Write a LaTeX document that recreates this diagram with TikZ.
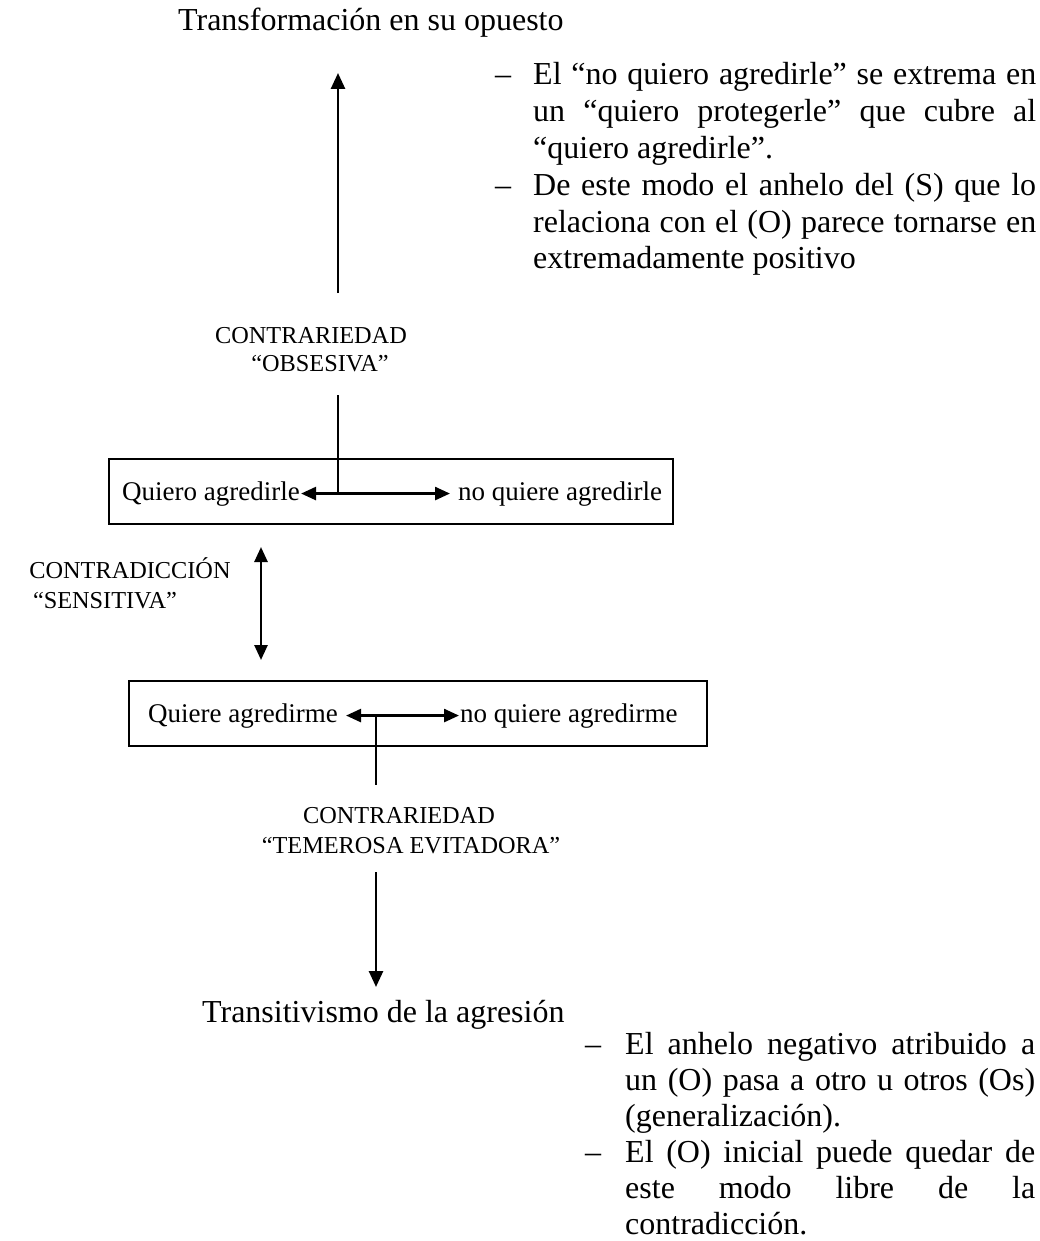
\documentclass[tikz,border=0pt]{standalone}
\usepackage{fontspec}
\setmainfont{Liberation Serif}
\usetikzlibrary{arrows.meta}
\newlength{\bw}
\newcommand{\jline}[1]{\makebox[\bw][s]{#1}}
\newcommand{\lline}[1]{\makebox[\bw][l]{#1}}
\begin{document}
\begin{tikzpicture}[x=1pt,y=-1pt,
  big/.style={font=\fontsize{32}{36}\selectfont, inner sep=0pt},
  lab/.style={font=\fontsize{24.3}{28}\selectfont, inner sep=0pt},
  boxt/.style={font=\fontsize{27}{31}\selectfont, inner sep=0pt},
  frame/.style={draw=black, line width=2pt, inner sep=0pt},
  arr/.style={line width=2.6pt, -{Triangle[length=16pt,width=14pt]}},
  darr/.style={line width=2.6pt, {Triangle[length=15pt,width=13pt]}-{Triangle[length=15pt,width=13pt]}},
  conn/.style={line width=1.7pt}]
\useasboundingbox (0,0) rectangle (1040,1241);

% top title and arrow
\node[big, anchor=base west] (title) at (178,31) {Transformación en su opuesto};
\coordinate (upbot) at (338,293);
\coordinate (uptop) at (338,73);
\draw[arr] (upbot) -- (uptop);

% bullet block 1
\setlength{\bw}{503pt}
\node[big, anchor=base west] (d1) at (495,85) {–};
\node[big, anchor=base west] (a1) at (533,85) {\jline{El “no quiero agredirle” se extrema en}};
\node[big, anchor=base west] (a2) at (533,121.8) {\jline{un “quiero protegerle” que cubre al}};
\node[big, anchor=base west] (a3) at (533,158.6) {\lline{“quiero agredirle”.}};
\node[big, anchor=base west] (d2) at (495,195.4) {–};
\node[big, anchor=base west] (a4) at (533,195.4) {\jline{De este modo el anhelo del (S) que lo}};
\node[big, anchor=base west] (a5) at (533,232.2) {\jline{relaciona con el (O) parece tornarse en}};
\node[big, anchor=base west] (a6) at (533,269) {\lline{extremadamente positivo}};

% obsesiva label
\node[lab, anchor=base] (o1) at (311,343) {CONTRARIEDAD};
\node[lab, anchor=base] (o2) at (320,371) {“OBSESIVA”};
\coordinate (obsline) at (338,395);

% box 1
\node[frame, minimum width=564pt, minimum height=65pt, anchor=north west] (box1) at (108,458) {};
\node[boxt, anchor=base west] (q1) at (122,500) {Quiero agredirle};
\node[boxt, anchor=base west] (n1) at (458,500) {no quiere agredirle};
\draw[darr] ([xshift=1pt]q1.east) -- ([xshift=-8pt]n1.west);
\draw[conn] (obsline) -- (obsline |- q1.east);

% sensitiva
\node[lab, anchor=base] (s1) at (130,578) {CONTRADICCIÓN};
\node[lab, anchor=base] (s2) at (105,608) {“SENSITIVA”};
\coordinate (sa) at (261,547);
\coordinate (sb) at (261,660);
\draw[darr] (sa) -- (sb);

% box 2
\node[frame, minimum width=578pt, minimum height=65pt, anchor=north west] (box2) at (128,680) {};
\node[boxt, anchor=base west] (q2) at (148,722) {Quiere agredirme};
\node[boxt, anchor=base west] (n2) at (460,722) {no quiere agredirme};
\draw[darr] ([xshift=8pt]q2.east) -- ([xshift=-1pt]n2.west);
\coordinate (temtop) at (376,785);
\draw[conn] (temtop |- q2.east) -- (temtop);

% temerosa
\node[lab, anchor=base] (t1) at (399,823) {CONTRARIEDAD};
\node[lab, anchor=base] (t2) at (411,853) {“TEMEROSA EVITADORA”};
\coordinate (dntop) at (376,872);
\coordinate (dnbot) at (376,987);
\draw[arr] (dntop) -- (dnbot);

\node[big, anchor=base west] (trans) at (202,1022) {Transitivismo de la agresión};

% bullet block 2
\setlength{\bw}{410pt}
\node[big, anchor=base west] (d3) at (585,1054) {–};
\node[big, anchor=base west] (c1) at (625,1054) {\jline{El anhelo negativo atribuido a}};
\node[big, anchor=base west] (c2) at (625,1090) {\jline{un (O) pasa a otro u otros (Os)}};
\node[big, anchor=base west] (c3) at (625,1126) {\lline{(generalización).}};
\node[big, anchor=base west] (d4) at (585,1162) {–};
\node[big, anchor=base west] (c4) at (625,1162) {\jline{El (O) inicial puede quedar de}};
\node[big, anchor=base west] (c5) at (625,1198) {\jline{este modo libre de la}};
\node[big, anchor=base west] (c6) at (625,1234) {\lline{contradicción.}};
\end{tikzpicture}
\end{document}
